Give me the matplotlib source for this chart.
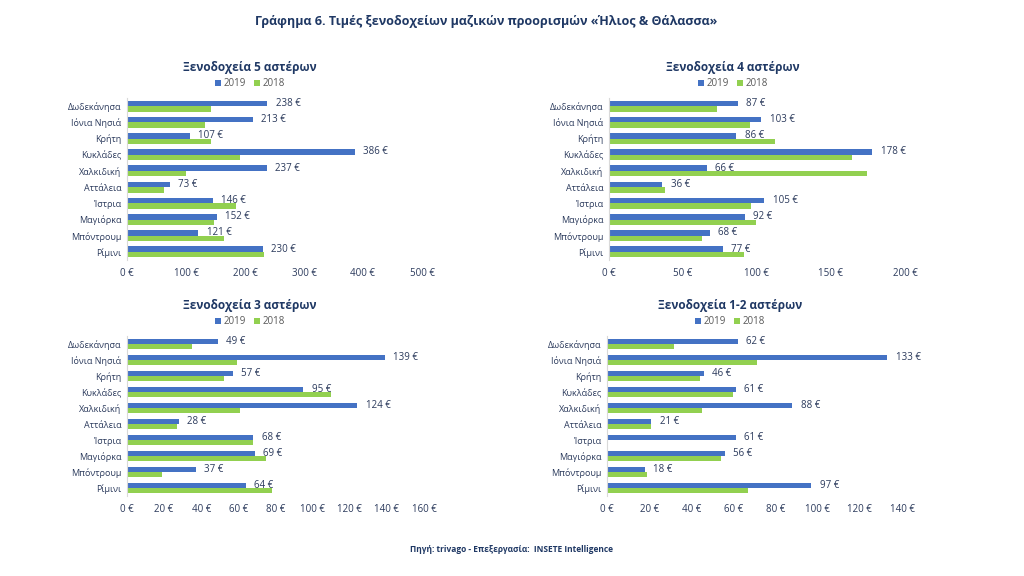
import matplotlib.pyplot as plt
import numpy as np

plt.rcParams["font.family"] = ["Open Sans", "DejaVu Sans"]

destinations = ["Δωδεκάνησα", "Ιόνια Νησιά", "Κρήτη", "Κυκλάδες", "Χαλκιδική",
                "Αττάλεια", "Ίστρια", "Μαγιόρκα", "Μπόντρουμ", "Ρίμινι"]

# 5 stars
s5_2019 = [238, 213, 107, 386, 237, 73, 146, 152, 121, 230]
s5_2018 = [142, 133, 143, 191, 100, 63, 184, 148, 164, 232]
# 4 stars
s4_2019 = [87, 103, 86, 178, 66, 36, 105, 92, 68, 77]
s4_2018 = [73, 95, 112, 164, 174, 38, 96, 99, 63, 91]
# 3 stars
s3_2019 = [49, 139, 57, 95, 124, 28, 68, 69, 37, 64]
s3_2018 = [35, 59, 52, 110, 61, 27, 68, 75, 19, 78]
# 1-2 stars
s12_2019 = [62, 133, 46, 61, 88, 21, 61, 56, 18, 97]
s12_2018 = [32, 71, 44, 60, 45, 21, 0, 54, 19, 67]

panels = [
    ("Ξενοδοχεία 5 αστέρων", s5_2019, s5_2018, [0, 100, 200, 300, 400, 500]),
    ("Ξενοδοχεία 4 αστέρων", s4_2019, s4_2018, [0, 50, 100, 150, 200]),
    ("Ξενοδοχεία 3 αστέρων", s3_2019, s3_2018, [0, 20, 40, 60, 80, 100, 120, 140, 160]),
    ("Ξενοδοχεία 1-2 αστέρων", s12_2019, s12_2018, [0, 20, 40, 60, 80, 100, 120, 140]),
]

BLUE = "#4472C4"
GREEN = "#92D050"
NAVY = "#1F3864"
TEXT = "#2B3A5C"

W, H = 1024, 576
fig = plt.figure(figsize=(W / 100, H / 100), dpi=100)

# pixel boxes: (left, top, right, bottom) of plot area, title centre x, title y
boxes = [
    (127, 98, 422, 260, 250, 68),
    (609, 98, 905, 260, 733, 68),
    (127, 336, 424, 496, 250, 306),
    (607, 336, 902, 496, 730, 306),
]

y = np.arange(len(destinations))
bh = 0.34

for (title, v19, v18, ticks), (l, t, r, b, tx, ty) in zip(panels, boxes):
    ax = fig.add_axes([l / W, 1 - b / H, (r - l) / W, (b - t) / H])
    ax.barh(y - bh / 2, v19, height=bh, color=BLUE, label="2019")
    ax.barh(y + bh / 2, v18, height=bh, color=GREEN, label="2018")
    for yi, v in zip(y, v19):
        ax.annotate(f"{v} €", (v, yi - bh / 2), xytext=(6, 0), textcoords="offset points",
                    va="center", ha="left", fontsize=7, color=TEXT)
    ax.set_yticks(y)
    ax.set_yticklabels(destinations, fontsize=6.5, color=TEXT)
    ax.set_ylim(len(destinations) - 0.5, -0.5)
    ax.set_xlim(ticks[0], ticks[-1])
    ax.set_xticks(ticks)
    ax.set_xticklabels([f"{v} €" for v in ticks], fontsize=7, color=TEXT)
    for s in ["top", "right", "bottom"]:
        ax.spines[s].set_visible(False)
    ax.spines["left"].set_color("#D9D9D9")
    ax.tick_params(axis="both", length=0, pad=4)
    ax.tick_params(axis="x", pad=6)

    fig.text(tx / W, 1 - ty / H, title, ha="center", va="center",
             fontsize=8.5, fontweight="bold", color=NAVY)
    h, lab = ax.get_legend_handles_labels()
    fig.legend(h, lab, loc="center", bbox_to_anchor=(tx / W, 1 - (ty + 16) / H), ncol=2,
               frameon=False, fontsize=7, labelcolor="#595959", handlelength=0.6,
               handleheight=0.6, handletextpad=0.3, columnspacing=0.8)

fig.text(486 / W, 1 - 22 / H, "Γράφημα 6. Τιμές ξενοδοχείων μαζικών προορισμών «Ήλιος & Θάλασσα»",
         ha="center", va="center", fontsize=9, fontweight="bold", color=NAVY)
fig.text(512 / W, 1 - 550 / H, "Πηγή: trivago - Επεξεργασία:  INSETE Intelligence",
         ha="center", va="center", fontsize=6, fontweight="bold", color=NAVY)

fig.savefig("out.png", dpi=100)
